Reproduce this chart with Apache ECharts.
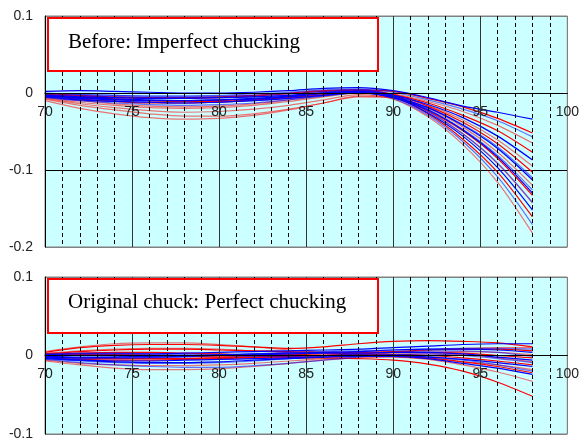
<!DOCTYPE html>
<html>
<head>
<meta charset="utf-8">
<script src="https://cdn.jsdelivr.net/npm/echarts@6/dist/echarts.min.js"></script>
<style>html,body{margin:0;padding:0;background:#fff;}#c{width:582px;height:441px;}</style>
</head>
<body>
<div id="c"></div>
<script>
var xValues = [70,72,74,76,78,80,82,84,86,88,90,92,94,96,98];
var xTicks = [70,75,80,85,90,95,100];
var topTitle = 'Before: Imperfect chucking';
var bottomTitle = 'Original chuck: Perfect chucking';

var topBlue = [
  [0.002,0.003,0.002,0.001,0.000,0.000,0.001,0.003,0.006,0.007,0.003,-0.006,-0.017,-0.025,-0.034],
  [0.000,-0.002,-0.003,-0.004,-0.004,-0.003,-0.001,0.001,0.004,0.005,0.001,-0.009,-0.021,-0.036,-0.057],
  [-0.004,-0.007,-0.009,-0.010,-0.010,-0.009,-0.007,-0.004,0.000,0.002,-0.003,-0.015,-0.032,-0.056,-0.087],
  [-0.006,-0.010,-0.013,-0.015,-0.016,-0.015,-0.013,-0.009,-0.004,0.000,-0.004,-0.019,-0.041,-0.070,-0.110],
  [-0.003,-0.005,-0.006,-0.007,-0.007,-0.006,-0.005,-0.003,0.000,0.001,-0.006,-0.019,-0.042,-0.072,-0.113],
  [-0.002,-0.004,-0.005,-0.006,-0.006,-0.006,-0.005,-0.003,0.001,0.003,-0.003,-0.021,-0.047,-0.081,-0.126],
  [-0.005,-0.009,-0.011,-0.012,-0.013,-0.012,-0.010,-0.007,-0.003,0.000,-0.006,-0.022,-0.048,-0.083,-0.130],
  [-0.001,-0.002,-0.003,-0.004,-0.004,-0.004,-0.003,-0.001,0.002,0.004,-0.003,-0.024,-0.053,-0.091,-0.142],
  [-0.003,-0.006,-0.008,-0.009,-0.010,-0.009,-0.008,-0.005,-0.001,0.002,-0.005,-0.026,-0.056,-0.097,-0.152],
  [-0.004,-0.008,-0.010,-0.012,-0.013,-0.012,-0.010,-0.007,-0.003,0.001,-0.007,-0.029,-0.063,-0.109,-0.171]
];
var topRed = [
  [-0.002,-0.004,-0.006,-0.007,-0.007,-0.006,-0.004,-0.001,0.002,0.004,0.002,-0.007,-0.018,-0.033,-0.052],
  [-0.005,-0.010,-0.014,-0.017,-0.018,-0.017,-0.014,-0.009,-0.003,0.001,-0.001,-0.011,-0.024,-0.042,-0.065],
  [-0.003,-0.006,-0.008,-0.010,-0.011,-0.010,-0.008,-0.005,-0.001,0.002,-0.002,-0.013,-0.029,-0.049,-0.077],
  [-0.008,-0.016,-0.022,-0.027,-0.030,-0.030,-0.027,-0.021,-0.013,-0.004,-0.005,-0.016,-0.035,-0.061,-0.095],
  [-0.001,-0.003,-0.005,-0.006,-0.006,-0.005,-0.003,0.000,0.003,0.004,-0.002,-0.017,-0.038,-0.066,-0.103],
  [-0.010,-0.020,-0.027,-0.032,-0.034,-0.033,-0.029,-0.022,-0.013,-0.005,-0.006,-0.020,-0.044,-0.077,-0.120],
  [-0.004,-0.008,-0.011,-0.013,-0.013,-0.012,-0.009,-0.005,0.000,0.003,-0.004,-0.023,-0.049,-0.085,-0.133],
  [-0.006,-0.012,-0.016,-0.019,-0.020,-0.019,-0.016,-0.011,-0.005,0.000,-0.006,-0.024,-0.053,-0.092,-0.143],
  [-0.002,-0.005,-0.008,-0.010,-0.011,-0.011,-0.009,-0.006,-0.002,0.002,-0.005,-0.027,-0.060,-0.103,-0.161],
  [-0.007,-0.014,-0.019,-0.023,-0.025,-0.024,-0.021,-0.016,-0.009,-0.002,-0.008,-0.031,-0.067,-0.116,-0.182]
];
var bottomBlue = [
  [0.001,0.002,0.002,0.002,0.003,0.004,0.005,0.006,0.007,0.008,0.010,0.012,0.014,0.015,0.015],
  [-0.003,-0.004,-0.004,-0.003,-0.002,0.000,0.002,0.004,0.005,0.006,0.007,0.008,0.009,0.009,0.008],
  [-0.002,-0.003,-0.002,-0.001,0.000,0.001,0.002,0.003,0.004,0.005,0.007,0.008,0.008,0.007,0.004],
  [-0.004,-0.007,-0.009,-0.010,-0.010,-0.009,-0.007,-0.004,-0.001,0.002,0.004,0.006,0.006,0.004,-0.001],
  [-0.001,-0.002,-0.002,-0.002,-0.001,0.000,0.001,0.002,0.003,0.003,0.004,0.004,0.002,-0.002,-0.006],
  [-0.005,-0.009,-0.012,-0.014,-0.015,-0.015,-0.013,-0.010,-0.006,-0.002,0.001,0.002,0.000,-0.004,-0.009],
  [-0.003,-0.006,-0.008,-0.009,-0.009,-0.008,-0.006,-0.004,-0.002,0.000,0.000,-0.002,-0.005,-0.009,-0.014],
  [0.002,0.003,0.003,0.002,0.001,0.000,-0.001,-0.001,0.000,0.001,0.001,-0.001,-0.006,-0.012,-0.020],
  [-0.004,-0.006,-0.007,-0.007,-0.006,-0.005,-0.004,-0.003,-0.002,-0.001,-0.001,-0.004,-0.010,-0.016,-0.024]
];
var bottomRed = [
  [0.004,0.010,0.013,0.014,0.014,0.013,0.011,0.009,0.011,0.015,0.018,0.019,0.018,0.016,0.011],
  [0.005,0.011,0.015,0.016,0.016,0.014,0.011,0.007,0.004,0.003,0.004,0.007,0.009,0.010,0.010],
  [0.002,0.005,0.007,0.008,0.008,0.007,0.006,0.005,0.004,0.004,0.005,0.007,0.008,0.008,0.006],
  [0.003,0.006,0.008,0.009,0.009,0.008,0.006,0.004,0.003,0.002,0.003,0.004,0.005,0.004,0.001],
  [0.001,0.003,0.004,0.004,0.003,0.002,0.001,0.001,0.002,0.003,0.004,0.004,0.003,0.000,-0.003],
  [-0.006,-0.010,-0.012,-0.013,-0.013,-0.012,-0.010,-0.007,-0.004,-0.001,0.001,0.002,0.001,-0.003,-0.008],
  [0.000,0.001,0.001,0.000,-0.001,-0.002,-0.002,-0.001,0.000,0.001,0.001,0.000,-0.003,-0.007,-0.012],
  [-0.007,-0.012,-0.016,-0.018,-0.018,-0.017,-0.014,-0.010,-0.006,-0.003,-0.002,-0.004,-0.008,-0.012,-0.018],
  [-0.002,-0.003,-0.004,-0.004,-0.004,-0.003,-0.002,-0.001,0.000,0.001,0.000,-0.003,-0.008,-0.014,-0.022],
  [0.001,0.002,0.002,0.001,0.000,-0.001,-0.002,-0.002,-0.001,0.000,-0.001,-0.005,-0.012,-0.021,-0.033],
  [-0.003,-0.005,-0.006,-0.006,-0.005,-0.004,-0.003,-0.003,-0.003,-0.004,-0.006,-0.011,-0.020,-0.034,-0.052]
];

function pairs(vals){ return xValues.map(function(x,i){ return [x, vals[i]]; }); }

var series = [];
function addGroup(list, color, gi){
  list.forEach(function(vals, i){
    series.push({
      type: 'line', xAxisIndex: gi, yAxisIndex: gi,
      data: pairs(vals), showSymbol: false, smooth: 0.3, silent: true,
      lineStyle: { color: color, width: 1.2, opacity: (i % 2 === 0) ? 1 : 0.55 },
      z: 3
    });
  });
}
addGroup(topRed, '#ff0000', 0);
addGroup(topBlue, '#0000ff', 0);
addGroup(bottomRed, '#ff0000', 1);
addGroup(bottomBlue, '#0000ff', 1);

var labelFont = { fontFamily: 'Liberation Sans, Arial, sans-serif', fontSize: 14, color: '#222' };

function xAxis(gi, off){
  return {
    type: 'value', gridIndex: gi, min: 70, max: 100, interval: 5,
    position: 'bottom', offset: off,
    axisLine: { show: true, onZero: false, lineStyle: { color: '#000', width: 1 } },
    axisTick: { show: false },
    axisLabel: Object.assign({ margin: 12, showMinLabel: true, showMaxLabel: true }, labelFont),
    splitLine: { show: true, lineStyle: { color: ['#000','#333','#333','#333','#333','#333','#808080'], width: 1 } },
    minorTick: { show: false, splitNumber: 5 },
    minorSplitLine: { show: true, lineStyle: { color: '#000', type: [4,3], width: 1 } },
    z: 4
  };
}
function yAxis(gi, mn, mx, colors){
  return {
    type: 'value', gridIndex: gi, min: mn, max: mx, interval: 0.1,
    axisLine: { show: true, onZero: false, lineStyle: { color: '#000', width: 1 } },
    axisTick: { show: false },
    axisLabel: Object.assign({ margin: 12, formatter: function(v){ return String(Math.round(v*10)/10); } }, labelFont),
    splitLine: { show: true, lineStyle: { color: colors, width: 1 } },
    z: 2
  };
}

var chart = echarts.init(document.getElementById('c'), null, { renderer: 'canvas' });
chart.setOption({
  animation: false,
  backgroundColor: '#ffffff',
  grid: [
    { left: 45, top: 16, width: 525, height: 231, show: true, backgroundColor: '#ccffff', borderColor: '#808080', borderWidth: 1 },
    { left: 45, top: 277, width: 525, height: 158, show: true, backgroundColor: '#ccffff', borderColor: '#808080', borderWidth: 1 }
  ],
  xAxis: [xAxis(0, -154), xAxis(1, -79)],
  yAxis: [
    yAxis(0, -0.2, 0.1, ['#808080','#000','#000','#808080']),
    yAxis(1, -0.1, 0.1, ['#808080','#000','#808080'])
  ],
  series: series,
  graphic: [
    { type: 'rect', left: 47, top: 17, shape: { width: 330, height: 53 }, style: { fill: '#fff', stroke: '#ff0000', lineWidth: 2 }, z: 10 },
    { type: 'text', left: 68, top: 32, style: { text: topTitle, font: '21px "Liberation Serif", "Times New Roman", serif', fill: '#000' }, z: 11 },
    { type: 'rect', left: 47, top: 278, shape: { width: 330, height: 54 }, style: { fill: '#fff', stroke: '#ff0000', lineWidth: 2 }, z: 10 },
    { type: 'text', left: 68, top: 292, style: { text: bottomTitle, font: '21px "Liberation Serif", "Times New Roman", serif', fill: '#000' }, z: 11 }
  ]
});
</script>
</body>
</html>
